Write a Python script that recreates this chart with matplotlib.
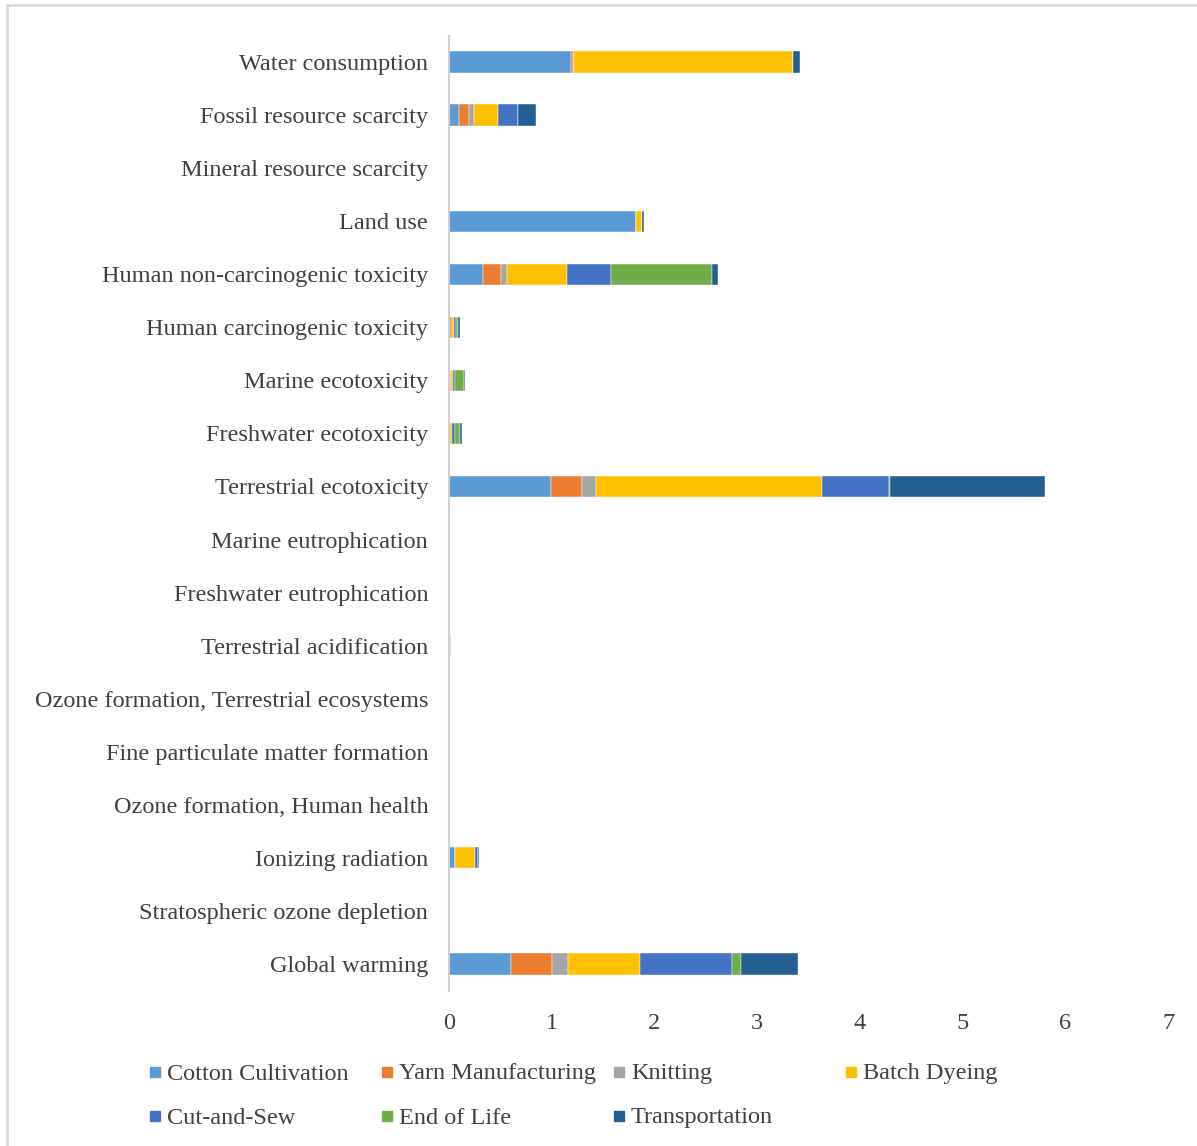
"""Stacked horizontal bars of midpoint impact contributions per life-cycle stage."""

import numpy as np
import matplotlib
matplotlib.use("Agg")
import matplotlib.pyplot as plt
from matplotlib.patches import Rectangle

plt.rcParams["font.family"] = ["Liberation Serif", "DejaVu Serif"]

# impact categories, bottom to top
CATEGORIES = [
    "Global warming", "Stratospheric ozone depletion", "Ionizing radiation",
    "Ozone formation, Human health", "Fine particulate matter formation",
    "Ozone formation, Terrestrial ecosystems", "Terrestrial acidification",
    "Freshwater eutrophication", "Marine eutrophication", "Terrestrial ecotoxicity",
    "Freshwater ecotoxicity", "Marine ecotoxicity", "Human carcinogenic toxicity",
    "Human non-carcinogenic toxicity", "Land use", "Mineral resource scarcity",
    "Fossil resource scarcity", "Water consumption",
]

STAGES = ["Cotton Cultivation", "Yarn Manufacturing", "Knitting", "Batch Dyeing",
          "Cut-and-Sew", "End of Life", "Transportation"]
COLORS = ["#5B9BD5", "#ED7D31", "#A5A5A5", "#FFC000", "#4472C4", "#70AD47", "#255E91"]

cotton = [0.60, 0.0, 0.055, 0.0, 0.0, 0.0, 0.015, 0.0, 0.0, 0.99, 0.003, 0.005, 0.005, 0.33, 1.82, 0.0, 0.10, 1.19]
yarn = [0.40, 0.0, 0.0, 0.0, 0.0, 0.0, 0.002, 0.0, 0.0, 0.30, 0.005, 0.013, 0.02, 0.18, 0.0, 0.0, 0.09, 0.02]
knitting = [0.16, 0.0, 0.0, 0.0, 0.0, 0.0, 0.0, 0.0, 0.0, 0.14, 0.0, 0.0, 0.005, 0.05, 0.0, 0.0, 0.05, 0.01]
dyeing = [0.70, 0.0, 0.20, 0.0, 0.0, 0.0, 0.002, 0.0, 0.0, 2.20, 0.02, 0.02, 0.015, 0.59, 0.06, 0.0, 0.24, 2.13]
cut_sew = [0.895, 0.0, 0.03, 0.0, 0.0, 0.0, 0.0, 0.0, 0.0, 0.65, 0.026, 0.02, 0.025, 0.43, 0.0, 0.0, 0.19, 0.0]
end_of_life = [0.09, 0.0, 0.0, 0.0, 0.0, 0.0, 0.0, 0.0, 0.0, 0.015, 0.05, 0.085, 0.02, 0.98, 0.0, 0.0, 0.0, 0.0]
transport = [0.55, 0.0, 0.01, 0.0, 0.0, 0.0, 0.0, 0.0, 0.0, 1.51, 0.02, 0.016, 0.015, 0.055, 0.02, 0.0, 0.175, 0.065]

SERIES = [cotton, yarn, knitting, dyeing, cut_sew, end_of_life, transport]
TXT = "#404040"
FS = 17.5

W, H = 1197, 1146
fig = plt.figure(figsize=(W / 100, H / 100), dpi=100)
ax = fig.add_axes([449 / W, 1 - 990.5 / H, (1168 - 449) / W, (990.5 - 35.5) / H])

y = np.arange(len(CATEGORIES))
left = np.zeros(len(CATEGORIES))
for vals, color in zip(SERIES, COLORS):
    vals = np.array(vals)
    ax.barh(y, vals, 0.4, left=left, color=color, edgecolor="white", linewidth=0.3)
    left += vals

ax.set_xlim(0, 7)
ax.set_ylim(-0.5, len(CATEGORIES) - 0.5)
ax.set_xticks(range(8))
ax.set_yticks(y)
ax.set_yticklabels(CATEGORIES, fontsize=FS, color=TXT)
ax.tick_params(axis="x", length=0, labelsize=FS, labelcolor=TXT, pad=16)
ax.tick_params(axis="y", length=0, pad=15)
for side in ("top", "right", "bottom"):
    ax.spines[side].set_visible(False)
ax.spines["left"].set_color("#D0D0D0")
ax.spines["left"].set_linewidth(1.5)

# legend laid out row by row in four even columns
for i, (name, color) in enumerate(zip(STAGES, COLORS)):
    row, col = divmod(i, 4)
    xm = 150 + 232 * col
    ym = 1072 + 44 * row
    fig.add_artist(Rectangle((xm / W, 1 - (ym + 5) / H), 10 / W, 10 / H,
                             transform=fig.transFigure, color=color))
    fig.text((xm + 17) / W, 1 - (ym + 2) / H, name, fontsize=FS, color=TXT,
             va="center", ha="left")

# chart frame
fig.add_artist(Rectangle((7 / W, -0.01), 1.02, 1 - 5 / H + 0.01, transform=fig.transFigure,
                         fill=False, edgecolor="#D9D9D9", linewidth=2))

fig.savefig("out.png", dpi=100, facecolor="white")
